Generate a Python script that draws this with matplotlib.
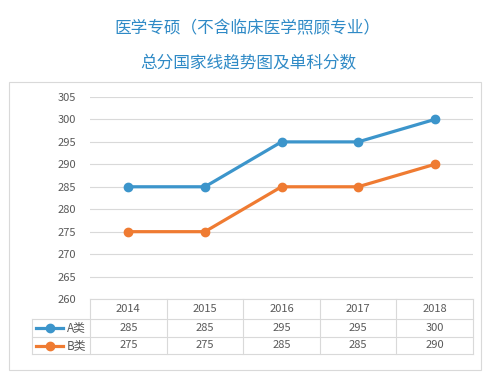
import matplotlib
matplotlib.use('Agg')
import matplotlib.pyplot as plt
from matplotlib.lines import Line2D
from matplotlib.patches import Rectangle

plt.rcParams['font.family'] = ['Noto Sans CJK SC', 'DejaVu Sans']

# --- dados ---
anos = ['2014', '2015', '2016', '2017', '2018']
serie_a = [285, 285, 295, 295, 300]
serie_b = [275, 275, 285, 285, 290]
nomes = ['A类', 'B类']
titulo1 = '医学专硕（不含临床医学照顾专业）'
titulo2 = '总分国家线趋势图及单科分数'
yticks = [260, 265, 270, 275, 280, 285, 290, 295, 300, 305]

cor_a = '#3c95cb'
cor_b = '#ef7b32'
cor_titulo = '#2f8ac6'
cor_grade = '#d9d9d9'
cor_texto = '#595959'

W, H = 494, 376
fig = plt.figure(figsize=(W / 100, H / 100), dpi=100)


def fx(px):
    return px / W


def fy(py):
    return 1 - py / H


# moldura externa
fig.add_artist(Rectangle((fx(9), fy(370)), fx(472), 288 / H, transform=fig.transFigure,
                         fill=False, edgecolor=cor_grade, linewidth=0.8))

fig.text(fx(247), fy(29), titulo1, ha='center', va='center', fontsize=12, color=cor_titulo)
fig.text(fx(248), fy(64), titulo2, ha='center', va='center', fontsize=12, color=cor_titulo)

x0, x1 = 90, 473
ytop, ybot = 97, 299
ax = fig.add_axes([fx(x0), fy(ybot), fx(x1 - x0), (ybot - ytop) / H])
xs = list(range(len(anos)))
ax.plot(xs, serie_a, color=cor_a, linewidth=2.3, marker='o', markersize=6, zorder=3)
ax.plot(xs, serie_b, color=cor_b, linewidth=2.3, marker='o', markersize=6, zorder=3)
ax.set_xlim(-0.5, len(anos) - 0.5)
ax.set_ylim(260, 305)
ax.set_yticks(yticks)
ax.set_xticks([])
ax.tick_params(axis='y', length=0, pad=10, labelsize=8, labelcolor=cor_texto)
ax.grid(True, axis='y', color=cor_grade, linewidth=0.8)
for s in ax.spines.values():
    s.set_visible(False)
ax.set_facecolor('none')

# tabela de dados
rows = [299, 319, 337, 354]
col_w = (x1 - x0) / len(anos)
leg_x = 32
linha = dict(transform=fig.transFigure, color=cor_grade, linewidth=0.8)
fig.add_artist(Line2D([fx(x0), fx(x1)], [fy(rows[0])] * 2, **linha))
for r in rows[1:]:
    fig.add_artist(Line2D([fx(leg_x), fx(x1)], [fy(r)] * 2, **linha))
for i in range(len(anos) + 1):
    xc = x0 + i * col_w
    fig.add_artist(Line2D([fx(xc)] * 2, [fy(rows[0]), fy(rows[-1])], **linha))
fig.add_artist(Line2D([fx(leg_x)] * 2, [fy(rows[1]), fy(rows[-1])], **linha))

for i, ano in enumerate(anos):
    xc = x0 + (i + 0.5) * col_w
    fig.text(fx(xc), fy((rows[0] + rows[1]) / 2), ano, ha='center', va='center',
             fontsize=8, color=cor_texto)
    fig.text(fx(xc), fy((rows[1] + rows[2]) / 2), str(serie_a[i]), ha='center', va='center',
             fontsize=8, color=cor_texto)
    fig.text(fx(xc), fy((rows[2] + rows[3]) / 2), str(serie_b[i]), ha='center', va='center',
             fontsize=8, color=cor_texto)

for k, (nome, cor) in enumerate(zip(nomes, [cor_a, cor_b])):
    yc = fy((rows[k + 1] + rows[k + 2]) / 2)
    fig.add_artist(Line2D([fx(36), fx(63)], [yc, yc], transform=fig.transFigure,
                          color=cor, linewidth=2.3))
    fig.add_artist(Line2D([fx(49.5)], [yc], transform=fig.transFigure, color=cor,
                          marker='o', markersize=6))
    fig.text(fx(67), yc, nome, ha='left', va='center', fontsize=8.5, color=cor_texto)

fig.savefig('out.png', dpi=100)
plt.close(fig)
